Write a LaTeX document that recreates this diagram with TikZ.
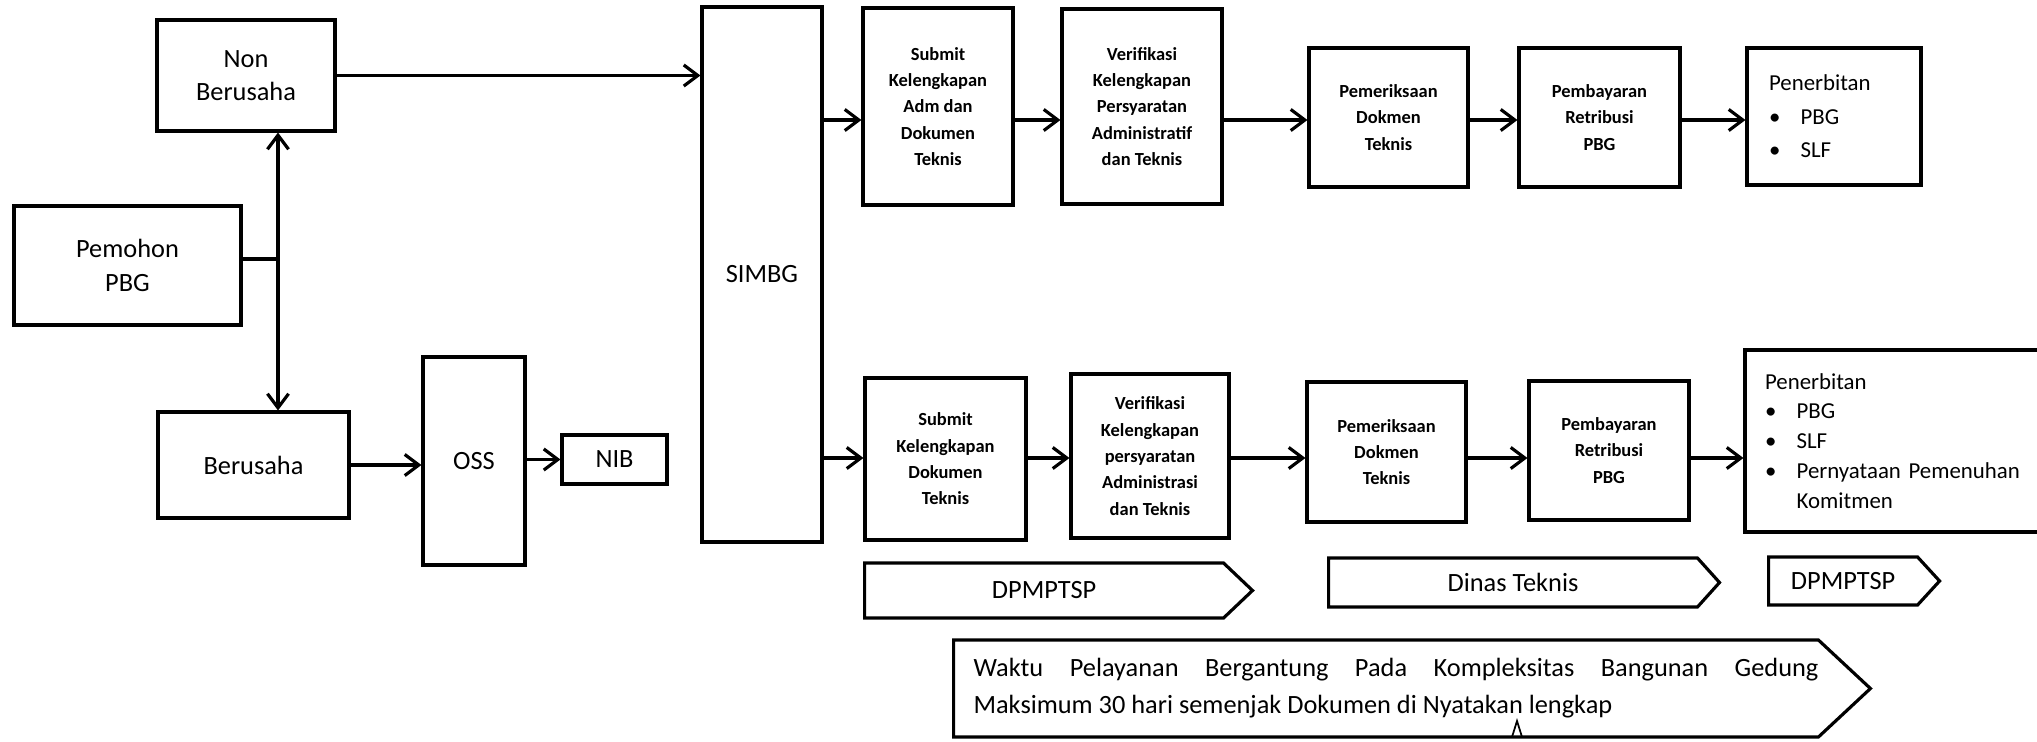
\documentclass[tikz,border=0pt]{standalone}
\usepackage{fontspec}
\setmainfont{Carlito}
\usetikzlibrary{arrows.meta,shapes.symbols}

\tikzset{
  kotak/.style={draw, align=center, inner sep=0pt, font=\fontsize{15}{19}\selectfont},
  proses/.style={kotak, font=\bfseries\fontsize{10.5}{15}\selectfont},
  terbit/.style={draw, align=left, inner sep=0pt, font=\fontsize{13}{19}\selectfont},
  penanda/.style={draw, signal, signal to=east, anchor=west, inner sep=0pt, font=\fontsize{15}{21}\selectfont}
}
\newcommand{\butir}{\makebox[18pt][l]{\textbullet}}

\begin{document}
\begin{tikzpicture}[x=0.02cm, y=-0.02cm, line width=1.8pt, >={Straight Barb[length=8pt,width=12pt]}]
				\useasboundingbox (0,0) rectangle (2037,741);
				
				% Pemohon dan jenis usaha
				\node[kotak, minimum width=4.54cm, minimum height=2.38cm] (pemohon) at (127.5,265.5) {Pemohon\\PBG};
				\node[kotak, minimum width=3.56cm, minimum height=2.22cm] (nonusaha) at (246,75.5) {Non\\Berusaha};
				\node[kotak, minimum width=3.82cm, minimum height=2.12cm] (usaha) at (253.5,465) {Berusaha};
				\node[kotak, minimum width=2.04cm, minimum height=4.16cm] (oss) at (474,461) {OSS};
				\node[kotak, minimum width=2.1cm, minimum height=0.98cm] (nib) at (614.5,459.5) {NIB};
				\node[kotak, minimum width=2.4cm, minimum height=10.7cm] (simbg) at (762,274.5) {SIMBG};
				
				% Alur atas (non berusaha)
				\node[proses, minimum width=3cm, minimum height=3.94cm] (subA) at (938,106.5) {Submit\\Kelengkapan\\Adm dan\\Dokumen\\Teknis};
				\node[proses, minimum width=3.2cm, minimum height=3.9cm] (verA) at (1142,106.5) {Verifikasi\\Kelengkapan\\Persyaratan\\Administratif\\dan Teknis};
				\node[proses, minimum width=3.18cm, minimum height=2.78cm] (pemA) at (1388.5,117.5) {Pemeriksaan\\Dokmen\\Teknis};
				\node[proses, minimum width=3.22cm, minimum height=2.78cm] (bayA) at (1599.5,117.5) {Pembayaran\\Retribusi\\PBG};
				\node[terbit, text width=2.6cm, minimum width=3.48cm, minimum height=2.74cm] (terA) at (1834,116.5) {Penerbitan\\\butir PBG\\\butir SLF};
				
				% Alur bawah (berusaha)
				\node[proses, minimum width=3.22cm, minimum height=3.24cm] (subB) at (945.5,459) {Submit\\Kelengkapan\\Dokumen\\Teknis};
				\node[proses, minimum width=3.16cm, minimum height=3.28cm] (verB) at (1150,456) {Verifikasi\\Kelengkapan\\persyaratan\\Administrasi\\dan Teknis};
				\node[proses, minimum width=3.18cm, minimum height=2.8cm] (pemB) at (1386.5,452) {Pemeriksaan\\Dokmen\\Teknis};
				\node[proses, minimum width=3.2cm, minimum height=2.78cm] (bayB) at (1609,450.5) {Pembayaran\\Retribusi\\PBG};
				\node[terbit, font=\fontsize{13}{17}\selectfont, text width=5.9cm, minimum width=6.7cm, minimum height=3.64cm] (terB) at (1912.5,441) {Penerbitan\\\butir PBG\\\butir SLF\\\butir Pernyataan Pemenuhan\\\hspace*{18pt}Komitmen};
				
				% Instansi dan waktu layanan
				\node[penanda, signal pointer angle=87, minimum width=7.76cm, minimum height=1.1cm] (dpm1) at (863,590.5) {DPMPTSP};
				\node[penanda, signal pointer angle=96, minimum width=7.82cm, minimum height=0.98cm] (dinas) at (1327,582.5) {Dinas Teknis};
				\node[penanda, signal pointer angle=95, minimum width=3.42cm, minimum height=0.96cm] (dpm2) at (1767,581) {DPMPTSP};
				\node[penanda, align=left, signal pointer angle=86, minimum width=18.3cm, minimum height=1.94cm] (waktu) at (952,688.5)
					{\hspace*{0.4cm}\makebox[16.9cm][s]{Waktu Pelayanan Bergantung Pada Kompleksitas Bangunan Gedung}\\\hspace*{0.4cm}Maksimum 30 hari semenjak Dokumen di Nyatakan lengkap};
				\draw[line width=1pt] (1512,737) -- (1517,721) -- (1522,737);
				
				% Panah
				\coordinate (cabang) at (278,259);
				\coordinate (barisA) at (0,120);
				\coordinate (barisB) at (0,458);
				\draw (pemohon.east |- cabang) -- (cabang);
				\draw[->] (cabang) -- (cabang |- nonusaha.south);
				\draw[->] (cabang) -- (cabang |- usaha.north);
				\draw[->] (nonusaha.east) -- (nonusaha.east -| simbg.west);
				\draw[->] (usaha.east) -- (usaha.east -| oss.west);
				\draw[->] (oss.east |- nib.west) -- (nib.west);
				\foreach \a/\b in {simbg/subA, subA/verA, verA/pemA, pemA/bayA, bayA/terA}
					\draw[->] (\a.east |- barisA) -- (\b.west |- barisA);
				\foreach \a/\b in {simbg/subB, subB/verB, verB/pemB, pemB/bayB, bayB/terB}
					\draw[->] (\a.east |- barisB) -- (\b.west |- barisB);
			\end{tikzpicture}
\end{document}
